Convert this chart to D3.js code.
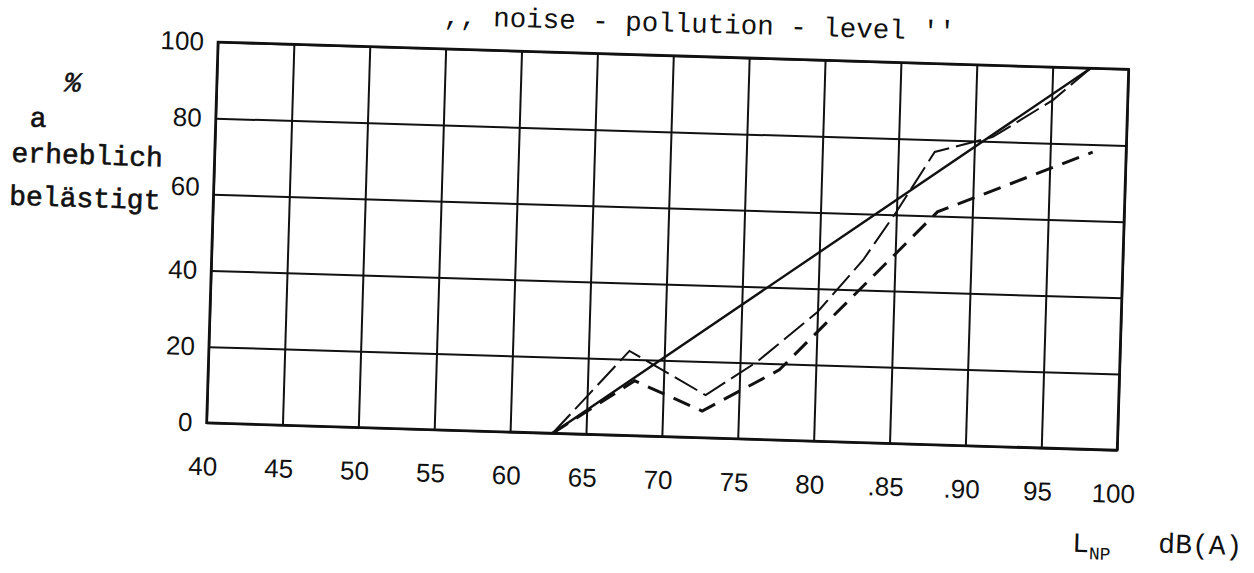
<!DOCTYPE html>
<html>
<head>
<meta charset="utf-8">
<script src="https://cdn.jsdelivr.net/npm/d3@7"></script>
<style>
  html, body { margin: 0; padding: 0; background: #fff; }
  svg { display: block; }
  .tick text { font-family: "Liberation Sans", Arial, sans-serif; font-size: 26px; fill: #111; }
  .mono { font-family: "Liberation Mono", "Courier New", monospace; fill: #111; }
</style>
</head>
<body>
<div id="chart"></div>
<script>
// axis ticks
const xTicks = [40, 45, 50, 55, 60, 65, 70, 75, 80, 85, 90, 95, 100];
const xTickLabels = ["40", "45", "50", "55", "60", "65", "70", "75", "80", ".85", ".90", "95", "100"];
const yTicks = [0, 20, 40, 60, 80, 100];

// solid line (straight)
const solidX = [62.8, 97.5];
const solidY = [0, 100];

// thin long-dash line
const dashAX = [62.8, 67.7, 72.8, 76.1, 80.0, 82.9, 85.0, 87.4, 91.2, 95.1, 97.5];
const dashAY = [0, 22.2, 11.2, 20.3, 33.9, 47.9, 60.8, 76.8, 81.2, 91.4, 100];

// heavy dash line
const dashBX = [62.8, 68.1, 72.6, 77.6, 87.7, 97.8];
const dashBY = [0, 14.4, 7.0, 18.4, 61.1, 78.0];

const width = 1254, height = 573;
const originX = 218, originY = 42, tilt = 1.72; // scan is slightly rotated
const W = 911, H = 381;

const svg = d3.select("#chart")
  .append("svg")
  .attr("width", width)
  .attr("height", height);

const g = svg.append("g")
  .attr("transform", `rotate(${tilt} ${originX} ${originY}) translate(${originX} ${originY})`);

const x = d3.scaleLinear().domain([40, 100]).range([0, W]);
const y = d3.scaleLinear().domain([0, 100]).range([H, 0]);

// grid + x labels
const xAxis = g.append("g")
  .attr("transform", `translate(0, ${H})`)
  .call(
    d3.axisBottom(x)
      .tickValues(xTicks)
      .tickSize(-H)
      .tickPadding(34)
      .tickFormat((d, i) => xTickLabels[i])
  );
xAxis.select(".domain").remove();
xAxis.selectAll(".tick line").attr("stroke", "#111").attr("stroke-width", 2);
xAxis.selectAll(".tick text").attr("dx", -3);

const yAxis = g.append("g")
  .call(
    d3.axisLeft(y)
      .tickValues(yTicks)
      .tickSize(-W)
      .tickPadding(14)
  );
yAxis.select(".domain").remove();
yAxis.selectAll(".tick line").attr("stroke", "#111").attr("stroke-width", 2);
// the typed "60" sits a little above its line
yAxis.selectAll(".tick text")
  .filter((d) => d === 60)
  .attr("dy", "0.05em");

// frame
g.append("rect")
  .attr("x", 0).attr("y", 0)
  .attr("width", W).attr("height", H)
  .attr("fill", "none")
  .attr("stroke", "#111")
  .attr("stroke-width", 2.6);

const line = d3.line()
  .x((d) => x(d[0]))
  .y((d) => y(d[1]));

g.append("path")
  .datum(solidX.map((v, i) => [v, solidY[i]]))
  .attr("d", line)
  .attr("fill", "none")
  .attr("stroke", "#111")
  .attr("stroke-width", 2.4);

g.append("path")
  .datum(dashAX.map((v, i) => [v, dashAY[i]]))
  .attr("d", line)
  .attr("fill", "none")
  .attr("stroke", "#111")
  .attr("stroke-width", 2)
  .attr("stroke-dasharray", "26,7");

g.append("path")
  .datum(dashBX.map((v, i) => [v, dashBY[i]]))
  .attr("d", line)
  .attr("fill", "none")
  .attr("stroke", "#111")
  .attr("stroke-width", 3)
  .attr("stroke-dasharray", "18,10");

// title
g.append("text")
  .attr("class", "mono")
  .attr("x", 225)
  .attr("y", -24)
  .style("font-size", "27.5px")
  .text(",, noise - pollution - level ''");

// y caption (typewriter, a bit heavier)
const cap = g.append("g")
  .attr("class", "mono")
  .style("font-size", "28px")
  .attr("stroke", "#111")
  .attr("stroke-width", 0.6);
cap.append("text").attr("x", -144).attr("y", 44).attr("dy", "0.35em")
  .attr("text-anchor", "middle").style("font-style", "italic").text("%");
cap.append("text").attr("x", -186).attr("y", 90).text("a");
cap.append("text").attr("x", -203).attr("y", 126).text("erheblich");
cap.append("text").attr("x", -204).attr("y", 169).text("belästigt");

// x axis unit
const unit = g.append("g").attr("class", "mono");
const lnp = unit.append("text")
  .attr("x", 869)
  .attr("y", H + 103)
  .style("font-size", "28px");
lnp.append("tspan").text("L");
lnp.append("tspan").attr("dy", 7).style("font-size", "18px").text("NP");
unit.append("text")
  .attr("x", 955)
  .attr("y", H + 101)
  .style("font-size", "28px")
  .text("dB(A)");
</script>
</body>
</html>
